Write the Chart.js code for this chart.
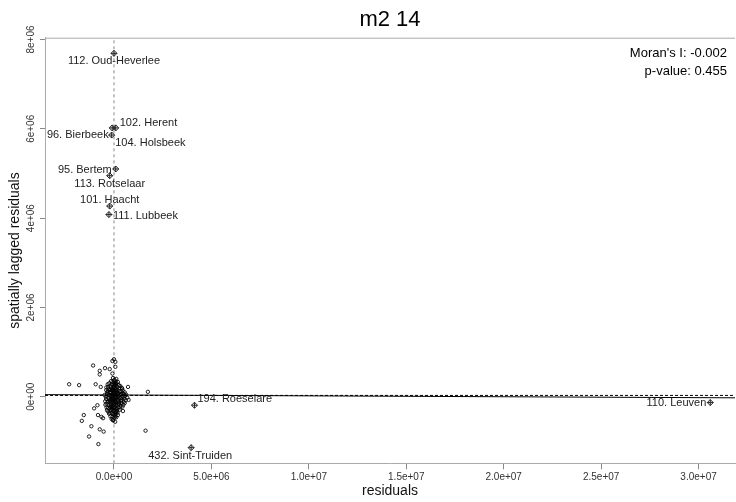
<!DOCTYPE html>
<html>
<head>
<meta charset="utf-8">
<style>
  html, body { margin: 0; padding: 0; overflow: hidden; background: #fff; }
  #wrap { width: 740px; height: 502px; }
</style>
</head>
<body>
<div id="wrap"><canvas id="moran_plot" width="740" height="502"></canvas></div>
<script src="https://cdn.jsdelivr.net/npm/chart.js"></script>
<script>
// all values in millions (1e6)
const chartTitle = "m2 14";
const moranText = ["Moran's I: -0.002", "p-value: 0.455"];
const xLimits = [-3.54, 31.87];
const yLimits = [-1.49, 8.04];
const xTicks = [0, 5, 10, 15, 20, 25, 30];
const xTickLabels = ["0.0e+00", "5.0e+06", "1.0e+07", "1.5e+07", "2.0e+07", "2.5e+07", "3.0e+07"];
const yTicks = [0, 2, 4, 6, 8];
const yTickLabels = ["0e+00", "2e+06", "4e+06", "6e+06", "8e+06"];

const meanResid = 0.0;
const meanLagged = 0.03;
const regIntercept = 0.04;
const regSlope = -0.002;

// ordinary municipalities: residual / spatially lagged residual
const residX = [
  0.00, 0.07, -0.08, -1.07, -0.73, -0.46, -0.22, 0.07, -0.73, -0.08,
  -2.30, -1.79, -0.94, -0.68, -0.39, 1.74, 0.72, 0.75, 0.46, -0.85,
  -1.02, -0.82, -0.64, -0.56, -1.55, -1.65, -1.16, -0.73, -0.53, -1.28,
  -0.80, 1.62, -0.05,
  -0.05, 0.02, 0.12, -0.15, 0.20, 0.05,
  -0.25, -0.10, 0.00, 0.10, 0.25, 0.32, -0.30, -0.18, 0.15, 0.40,
  -0.40, -0.28, -0.12, -0.02, 0.06, 0.18, 0.28, 0.45, 0.55, -0.22, -0.08, 0.02, 0.12, 0.35, 0.62, -0.35, -0.48,
  -0.42, -0.30, -0.18, -0.06, 0.04, 0.14, 0.24, 0.33, 0.48, 0.68, -0.25, -0.12, 0.00, 0.10, 0.20, 0.40,
  -0.45, -0.33, -0.20, -0.08, 0.03, 0.12, 0.26, 0.50, -0.15, -0.02, 0.08, 0.18, 0.34, -0.28,
  -0.38, -0.22, -0.10, 0.00, 0.10, 0.22, 0.30, -0.16, -0.04, 0.06, 0.16, -0.30,
  -0.25, -0.12, -0.02, 0.08, 0.20, -0.08, 0.02, -0.18, 0.12, -0.04, 0.06, -0.12,
  -0.05, 0.05, -0.10, 0.08, -0.02, 0.15, -0.14, 0.02, -0.20, 0.10, -0.06, 0.20, -0.10, 0.04, 0.28,
  -0.32, 0.38, -0.38, 0.00, -0.08, 0.08,
  0.45, 0.52, 0.58, 0.36, 0.42, 0.30, 0.26, 0.48, 0.55, 0.38, 0.44, 0.32, 0.60, 0.50, 0.40,
  -0.35, -0.40, -0.30, -0.26, -0.36, -0.44, -0.32, -0.22, -0.28,
  0.00, 0.05, -0.05, 0.10, -0.10, 0.15, -0.15, 0.20, -0.20, 0.25,
  0.03, -0.03, 0.08, -0.08, 0.13, -0.13, 0.18, -0.18, 0.23,
  0.06, -0.06, 0.11, -0.11, 0.16, -0.16,
  0.01, -0.01, 0.09, -0.09, 0.14, -0.14,
  0.04, -0.04, 0.07, -0.07, 0.12
];
const laggedY = [
  0.84, 0.78, 0.80, 0.70, 0.58, 0.64, 0.62, 0.67, 0.50, 0.52,
  0.28, 0.26, 0.28, 0.22, 0.21, 0.11, 0.22, -0.07, -0.32, -0.19,
  -0.26, -0.41, -0.45, -0.48, -0.41, -0.54, -0.66, -0.73, -0.78, -0.89,
  -1.06, -0.76, -0.52,
  0.42, 0.38, 0.40, 0.35, 0.33, 0.31,
  0.30, 0.28, 0.27, 0.29, 0.26, 0.24, 0.22, 0.24, 0.22, 0.20,
  0.15, 0.17, 0.19, 0.16, 0.20, 0.15, 0.12, 0.14, 0.10, 0.10, 0.12, 0.10, 0.08, 0.06, 0.05, 0.06, 0.04,
  0.00, -0.02, 0.02, 0.00, 0.03, -0.01, 0.01, -0.03, 0.00, -0.02, -0.06, -0.05, -0.07, -0.04, -0.08, -0.06,
  -0.10, -0.12, -0.10, -0.13, -0.11, -0.14, -0.12, -0.11, -0.17, -0.18, -0.19, -0.17, -0.20, -0.19,
  -0.24, -0.26, -0.23, -0.25, -0.27, -0.24, -0.29, -0.30, -0.31, -0.33, -0.32, -0.33,
  -0.38, -0.37, -0.40, -0.38, -0.41, -0.45, -0.47, -0.44, -0.46, -0.53, -0.56, -0.50,
  -0.05, 0.05, 0.05, -0.10, 0.08, 0.10, -0.08, -0.15, 0.15, 0.18, -0.20, -0.02, -0.28, -0.24, 0.20,
  0.12, -0.14, -0.16, 0.22, 0.33, 0.35,
  0.08, -0.04, 0.02, -0.09, 0.18, 0.04, -0.16, -0.18, -0.14, 0.12, -0.22, -0.24, -0.08, 0.06, -0.02,
  0.10, -0.05, -0.25, 0.04, -0.30, -0.18, 0.28, -0.36, -0.10,
  0.12, -0.02, -0.10, 0.14, 0.00, -0.06, 0.10, 0.06, -0.22, -0.15,
  -0.30, 0.20, 0.25, -0.26, -0.20, 0.02, -0.36, -0.12, 0.08,
  -0.42, 0.04, -0.34, 0.16, -0.28, 0.22,
  -0.16, 0.32, 0.00, -0.05, 0.30, -0.20,
  0.26, -0.38, -0.44, 0.14, 0.13
];

// influential municipalities
const inflNames = ["112. Oud-Heverlee", "102. Herent", "104. Holsbeek", "96. Bierbeek", "95. Bertem",
  "113. Rotselaar", "101. Haacht", "111. Lubbeek", "194. Roeselare", "432. Sint-Truiden", "110. Leuven"];
const inflX = [0.00, 0.09, -0.09, -0.12, 0.09, -0.22, -0.22, -0.26, 4.13, 3.96, 30.60];
const inflY = [7.69, 6.02, 6.02, 5.86, 5.10, 4.95, 4.27, 4.08, -0.19, -1.14, -0.13];

// label placement (pixel offsets from the point)
const labelPlace = [
  { dx: 0, dy: 8, align: "center" },
  { dx: 4, dy: -5, align: "left" },
  { dx: 3, dy: 15, align: "left" },
  { dx: -3, dy: 0, align: "right" },
  { dx: -4, dy: 1, align: "right" },
  { dx: 0, dy: 8, align: "center" },
  { dx: 0, dy: -6, align: "center" },
  { dx: 4, dy: 1, align: "left" },
  { dx: 3, dy: -6, align: "left" },
  { dx: -1, dy: 8, align: "center" },
  { dx: -4, dy: 0, align: "right" }
];

const FONT = "'Liberation Sans', Arial, sans-serif";

const pts = residX.map((x, i) => ({ x: x, y: laggedY[i] }));
const inflPts = inflX.map((x, i) => ({ x: x, y: inflY[i] }));

const extrasPlugin = {
  id: "extras",
  beforeDatasetsDraw(chart) {
    const ctx = chart.ctx;
    const a = chart.chartArea;
    ctx.save();
    ctx.strokeStyle = "#aaaaaa";
    ctx.lineWidth = 1;
    ctx.beginPath();
    ctx.moveTo(a.left, a.top + 0.5);
    ctx.lineTo(a.right, a.top + 0.5);
    ctx.stroke();
    ctx.restore();
  },
  afterDatasetsDraw(chart) {
    const ctx = chart.ctx;
    const a = chart.chartArea;
    const ys = chart.scales.y;
    ctx.save();
    // title
    ctx.fillStyle = "#000";
    ctx.font = "22px " + FONT;
    ctx.textAlign = "center";
    ctx.textBaseline = "middle";
    ctx.fillText(chartTitle, (a.left + a.right) / 2, 20);
    // moran's I
    ctx.font = "13px " + FONT;
    ctx.textAlign = "right";
    ctx.fillText(moranText[0], 727, 53);
    ctx.fillText(moranText[1], 727, 71);
    // y tick labels, rotated like R
    ctx.font = "10px " + FONT;
    ctx.fillStyle = "#333";
    ctx.textAlign = "center";
    yTicks.forEach((v, i) => {
      const py = ys.getPixelForValue(v);
      ctx.save();
      ctx.translate(31, py);
      ctx.rotate(-Math.PI / 2);
      ctx.fillText(yTickLabels[i], 0, 0);
      ctx.restore();
    });
    // point labels
    const meta = chart.getDatasetMeta(1);
    ctx.font = "11px " + FONT;
    ctx.fillStyle = "#222";
    inflNames.forEach((name, i) => {
      const el = meta.data[i];
      const p = labelPlace[i];
      ctx.textAlign = p.align;
      ctx.fillText(name, el.x + p.dx, el.y + p.dy);
    });
    ctx.restore();
  }
};

new Chart(document.getElementById("moran_plot").getContext("2d"), {
  type: "scatter",
  data: {
    datasets: [
      {
        label: "municipalities",
        data: pts,
        pointStyle: "circle",
        pointRadius: 1.7,
        borderWidth: 1,
        borderColor: "rgba(0,0,0,0.85)",
        backgroundColor: "rgba(0,0,0,0)",
        order: 3
      },
      {
        label: "influential",
        data: inflPts,
        pointStyle: "rectRot",
        pointRadius: 3,
        borderWidth: 1,
        borderColor: "#222",
        backgroundColor: "rgba(0,0,0,0)",
        order: 2
      },
      {
        label: "influential cross",
        data: inflPts,
        pointStyle: "cross",
        pointRadius: 3,
        borderWidth: 1,
        borderColor: "#222",
        order: 2
      },
      {
        label: "regression",
        type: "line",
        data: [
          { x: xLimits[0], y: regIntercept + regSlope * xLimits[0] },
          { x: xLimits[1], y: regIntercept + regSlope * xLimits[1] }
        ],
        borderColor: "#000",
        borderWidth: 1,
        pointRadius: 0,
        order: 1
      },
      {
        label: "mean lagged",
        type: "line",
        data: [{ x: xLimits[0], y: meanLagged }, { x: xLimits[1], y: meanLagged }],
        borderColor: "#000",
        borderWidth: 1,
        borderDash: [3, 2],
        pointRadius: 0,
        order: 0
      },
      {
        label: "mean resid",
        type: "line",
        data: [{ x: meanResid, y: yLimits[0] }, { x: meanResid, y: yLimits[1] }],
        borderColor: "#888",
        borderWidth: 1,
        borderDash: [3, 3],
        pointRadius: 0,
        order: 4
      }
    ]
  },
  options: {
    responsive: false,
    animation: false,
    layout: { padding: { top: 37.7, left: 0, right: 0, bottom: 0 } },
    plugins: {
      legend: { display: false },
      tooltip: { enabled: false },
      title: { display: false }
    },
    scales: {
      x: {
        type: "linear",
        min: xLimits[0],
        max: xLimits[1],
        afterBuildTicks: (s) => { s.ticks = xTicks.map(v => ({ value: v })); },
        afterFit: (s) => { s.height = 38.7; },
        ticks: {
          color: "#333",
          font: { size: 10, family: FONT },
          padding: 2,
          maxRotation: 0,
          autoSkip: false,
          callback: (v) => xTickLabels[xTicks.indexOf(v)]
        },
        grid: { drawOnChartArea: false, drawTicks: true, tickLength: 6, color: "#888" },
        border: { display: true, color: "#aaaaaa", width: 1 },
        title: {
          display: true,
          text: "residuals",
          color: "#111",
          font: { size: 14, family: FONT },
          padding: { top: 0, bottom: 2 }
        }
      },
      y: {
        type: "linear",
        min: yLimits[0],
        max: yLimits[1],
        afterBuildTicks: (s) => { s.ticks = yTicks.map(v => ({ value: v })); },
        afterFit: (s) => { s.width = 45; },
        ticks: { display: false },
        grid: { drawOnChartArea: false, drawTicks: true, tickLength: 5, color: "#888" },
        border: { display: true, color: "#aaaaaa", width: 1 },
        title: {
          display: true,
          text: "spatially lagged residuals",
          color: "#111",
          font: { size: 14, family: FONT },
          padding: { top: 7, bottom: 0 }
        }
      }
    }
  },
  plugins: [extrasPlugin]
});
</script>
</body>
</html>
